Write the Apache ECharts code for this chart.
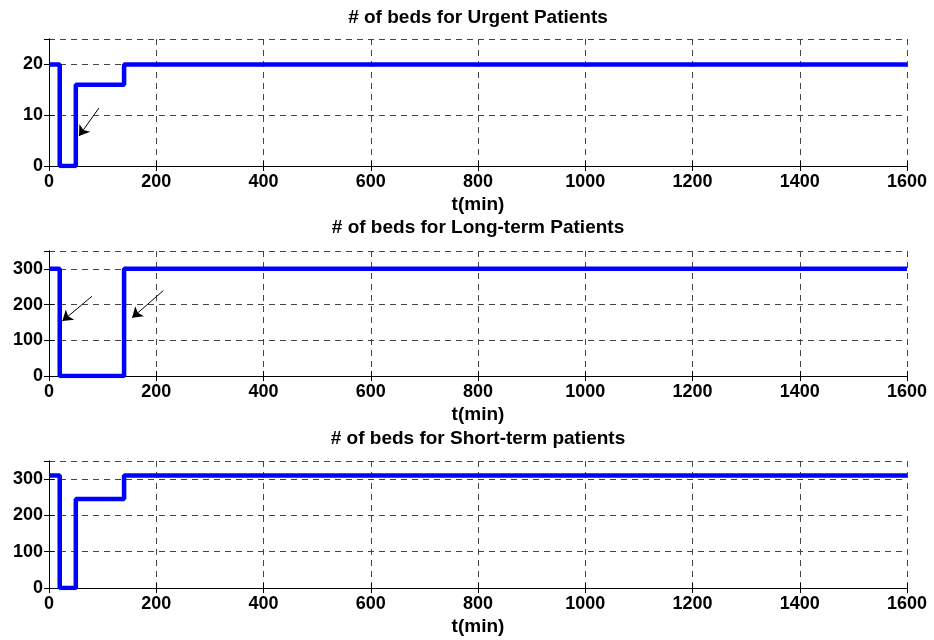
<!DOCTYPE html>
<html>
<head>
<meta charset="utf-8">
<script src="https://cdn.jsdelivr.net/npm/echarts@6/dist/echarts.min.js"></script>
<style>
html, body { margin: 0; background: #fff; }
#chart { width: 934px; height: 640px; }
</style>
</head>
<body>
<div id="chart"></div>
<script>
// step data, t in minutes
const urgentT = [0, 20, 50, 140, 1600];
const urgentBeds = [20, 0, 16, 20, 20];
const longT = [0, 20, 140, 1600];
const longBeds = [300, 0, 300, 300];
const shortT = [0, 20, 50, 140, 1600];
const shortBeds = [310, 0, 245, 310, 310];

// annotation arrows: [from, to] in data coords
const urgentArrows = [[[93, 11.4], [56, 5.9]]];
const longArrows = [[[80, 223], [25, 154]], [[213, 239], [155, 163]]];
const shortArrows = [];

const titles = ['# of beds for Urgent Patients', '# of beds for Long-term Patients', '# of beds for Short-term patients'];
const yMax = [25, 350, 350];
const yStep = [10, 100, 100];

const font = '"Liberation Sans", Arial, sans-serif';
const panels = [
    { top: 39, height: 127, titleY: 18, t: urgentT, v: urgentBeds, arrows: urgentArrows },
    { top: 251, height: 125, titleY: 228, t: longT, v: longBeds, arrows: longArrows },
    { top: 461, height: 127, titleY: 439, t: shortT, v: shortBeds, arrows: shortArrows }
];

const dashed = { show: true, lineStyle: { color: '#444', width: 1, type: [6, 5] } };
const border = { show: true, lineStyle: { color: '#000', width: 1 } };
const tick = { show: true, inside: true, length: 5, lineStyle: { color: '#000' } };
const label = { color: '#000', fontFamily: font, fontWeight: 'bold', fontSize: 18 };
const plain = v => String(v);

let grid = [], xAxis = [], yAxis = [], series = [], graphic = [];

panels.forEach((p, i) => {
    grid.push({ left: 49, right: 27, top: p.top, height: p.height });

    xAxis.push({
        type: 'value', gridIndex: i, min: 0, max: 1600, interval: 200, position: 'bottom',
        axisLine: border, axisTick: tick, splitLine: dashed,
        axisLabel: Object.assign({ margin: 7, formatter: plain }, label),
        name: 't(min)', nameLocation: 'middle', nameGap: 29,
        nameTextStyle: Object.assign({}, label, { fontSize: 19 })
    });
    xAxis.push({
        type: 'value', gridIndex: i, min: 0, max: 1600, interval: 200, position: 'top',
        axisLine: border, axisTick: tick, splitLine: { show: false }, axisLabel: { show: false }
    });
    yAxis.push({
        type: 'value', gridIndex: i, min: 0, max: yMax[i], interval: yStep[i], position: 'left',
        axisLine: border, axisTick: tick, splitLine: dashed,
        axisLabel: Object.assign({ margin: 6, showMaxLabel: false, formatter: plain }, label)
    });
    yAxis.push({
        type: 'value', gridIndex: i, min: 0, max: yMax[i], interval: yStep[i], position: 'right',
        axisLine: border, axisTick: tick, splitLine: { show: false }, axisLabel: { show: false }
    });

    series.push({
        type: 'line', step: 'end', xAxisIndex: 2 * i, yAxisIndex: 2 * i,
        data: p.t.map((t, k) => [t, p.v[k]]),
        symbol: 'none',
        lineStyle: { color: '#0000ff', width: 4.5 },
        markLine: {
            silent: true, animation: false,
            symbol: ['none', 'arrow'], symbolSize: 10,
            label: { show: false },
            lineStyle: { color: '#000', width: 1, type: 'solid' },
            data: p.arrows.map(a => [{ coord: a[0] }, { coord: a[1] }])
        }
    });

    graphic.push({
        type: 'text', x: 478, y: p.titleY,
        style: { text: titles[i], fill: '#000', font: 'bold 19px ' + font, textAlign: 'center', textVerticalAlign: 'middle' }
    });
});

const chart = echarts.init(document.getElementById('chart'));
chart.setOption({
    animation: false,
    backgroundColor: '#fff',
    grid: grid,
    xAxis: xAxis,
    yAxis: yAxis,
    series: series,
    graphic: graphic
});
</script>
</body>
</html>
